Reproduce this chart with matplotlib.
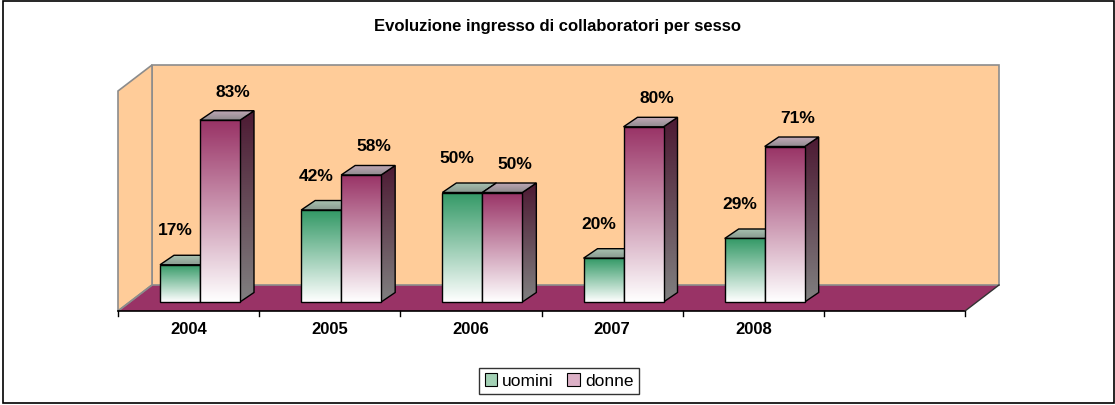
import numpy as np
import matplotlib
matplotlib.use("Agg")
import matplotlib.pyplot as plt
from matplotlib.patches import Polygon, Rectangle, Patch
from matplotlib.colors import to_rgb

plt.rcParams['font.family'] = ['Liberation Sans', 'DejaVu Sans']

# dati
anni = ["2004", "2005", "2006", "2007", "2008"]
uomini = [17, 42, 50, 20, 29]
donne = [83, 58, 50, 80, 71]
n_categorie = 6  # l'ultima categoria resta vuota

fig = plt.figure(figsize=(11.15, 4.05), dpi=100)
ax = fig.add_axes([0, 0, 1, 1])
ax.axis("off")

# scala: 141.17 px per categoria, 2.19 px per punto percentuale
px_x = 1 / 141.17
px_y = 1 / 2.19

# pareti e pavimento (prospettiva finta)
wall_dx, wall_dy = 34 * px_x, 26 * px_y
floor_y = -9 * px_y
wall_top = floor_y + wall_dy + 220 * px_y

pav = Polygon([(0, floor_y), (n_categorie, floor_y),
               (n_categorie + wall_dx, floor_y + wall_dy), (wall_dx, floor_y + wall_dy)],
              closed=True, facecolor="#993366", edgecolor="none", zorder=1)
ax.add_patch(pav)
retro = Polygon([(wall_dx, floor_y + wall_dy), (n_categorie + wall_dx, floor_y + wall_dy),
                 (n_categorie + wall_dx, wall_top), (wall_dx, wall_top)],
                closed=True, facecolor="#FFCC99", edgecolor="#8c8c8c", lw=1.2, zorder=1)
ax.add_patch(retro)
sinistra = Polygon([(0, floor_y), (wall_dx, floor_y + wall_dy),
                    (wall_dx, wall_top), (0, wall_top - wall_dy)],
                   closed=True, facecolor="#FFCC99", edgecolor="#8c8c8c", lw=1.2, zorder=1)
ax.add_patch(sinistra)
ax.add_patch(Polygon([(0, floor_y), (wall_dx, floor_y + wall_dy)], closed=False,
                     fill=False, edgecolor="#8c8c8c", lw=1.2, zorder=2))

# asse
ax.plot([0, n_categorie], [floor_y, floor_y], color="black", lw=1.2, zorder=3)
ax.plot([n_categorie, n_categorie + wall_dx], [floor_y, floor_y + wall_dy],
        color="#333333", lw=1, zorder=3)
for k in range(n_categorie + 1):
    ax.plot([k, k], [floor_y, floor_y - 5 * px_y], color="black", lw=1, zorder=3)
for k, a in enumerate(anni):
    ax.text(k + 0.5, floor_y - 19 * px_y, a, ha="center", va="center",
            fontsize=12, fontweight="bold")


def gradiente(poly_pts, c_alto, c_basso, y0, y1, z):
    x0 = min(p[0] for p in poly_pts)
    x1 = max(p[0] for p in poly_pts)
    a, b = np.array(to_rgb(c_basso)), np.array(to_rgb(c_alto))
    t = np.linspace(0, 1, 128)[:, None, None]
    img = a + (b - a) * t
    im = ax.imshow(img, extent=(x0, x1, y0, y1), origin="lower",
                   aspect="auto", zorder=z, interpolation="bilinear")
    clip = Polygon(poly_pts, closed=True, transform=ax.transData)
    im.set_clip_path(clip)
    ax.add_patch(Polygon(poly_pts, closed=True, fill=False,
                         edgecolor="black", lw=1, zorder=z + 0.1))


bar_w = 40 * px_x
bar_dx, bar_dy = 14 * px_x, 9.5 * px_y
centro = 82 * px_x

stili = [
    dict(front=("#339966", "#ffffff"), side=("#1d4d35", "#808080"), top=("#a9c4b2", "#8a9a90")),
    dict(front=("#993366", "#ffffff"), side=("#4d1a33", "#808080"), top=("#c2a9b8", "#8f8a8d")),
]

z = 5
for k in range(len(anni)):
    for s, (serie, st) in enumerate(zip([uomini, donne], stili)):
        v = serie[k]
        x0 = k + centro - bar_w + s * bar_w
        x1 = x0 + bar_w
        # lato
        side = [(x1, 0), (x1 + bar_dx, bar_dy), (x1 + bar_dx, v + bar_dy), (x1, v)]
        gradiente(side, st["side"][0], st["side"][1], 0, v + bar_dy, z)
        # sopra
        top = [(x0, v), (x1, v), (x1 + bar_dx, v + bar_dy), (x0 + bar_dx, v + bar_dy)]
        gradiente(top, st["top"][0], st["top"][1], v, v + bar_dy, z + 1)
        # fronte
        front = [(x0, 0), (x1, 0), (x1, v), (x0, v)]
        gradiente(front, st["front"][0], st["front"][1], 0, v, z + 2)
        z += 3

# etichette
for k in range(len(anni)):
    xu = k + centro - bar_w / 2
    xd = k + centro + bar_w / 2
    ax.text(xu - 5 * px_x, uomini[k] + 34 * px_y, f"{uomini[k]}%", ha="center",
            va="center", fontsize=12.5, fontweight="bold", zorder=100)
    ax.text(xd + 13 * px_x, donne[k] + 28 * px_y, f"{donne[k]}%", ha="center",
            va="center", fontsize=12.5, fontweight="bold", zorder=100)

ax.set_xlim(-118 * px_x, 997 * px_x)
ax.set_ylim(-103 * px_y, 302 * px_y)

fig.text(0.4996, 1 - 26 / 405, "Evoluzione ingresso di collaboratori per sesso",
         ha="center", va="center", fontsize=12, fontweight="bold")

handles = [Patch(facecolor="#a3d1b5", edgecolor="black", lw=0.8, label="uomini"),
           Patch(facecolor="#dcb0c6", edgecolor="black", lw=0.8, label="donne")]
leg = fig.legend(handles=handles, loc="center", bbox_to_anchor=(559 / 1115, 1 - 381 / 405),
                 ncol=2, fontsize=12.5, frameon=True, fancybox=False, edgecolor="black",
                 handlelength=0.7, handleheight=0.7, handletextpad=0.3,
                 columnspacing=0.8, borderpad=0.3)
leg.get_frame().set_linewidth(1)

fig.patches.append(Rectangle((3 / 1115, 2 / 405), 1111 / 1115, 402 / 405,
                             transform=fig.transFigure, fill=False,
                             edgecolor="black", lw=1.2))

fig.savefig("out.png", dpi=100)
